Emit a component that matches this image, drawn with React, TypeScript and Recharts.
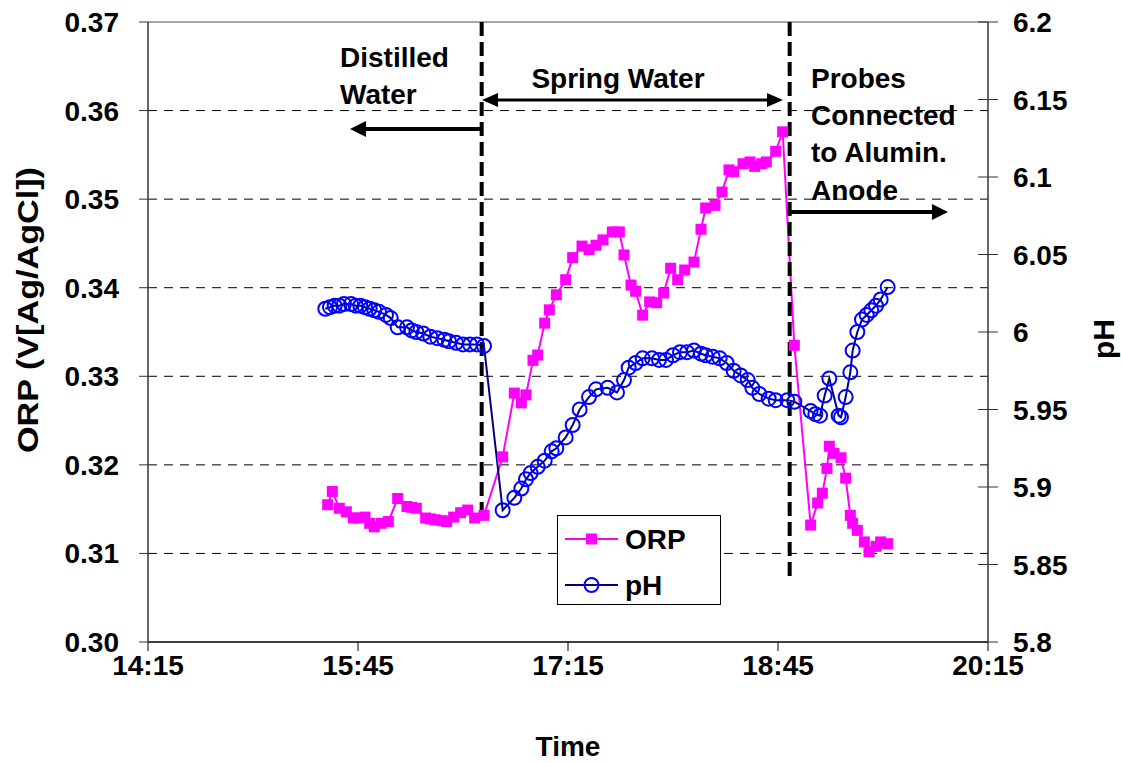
import React from 'react';
import { LineChart, Line, XAxis, YAxis, ReferenceLine } from 'recharts';

// ORP readings (V vs Ag/AgCl)
const orpTimes = [
  '15:32', '15:34', '15:37', '15:40', '15:43', '15:45', '15:48', '15:50', '15:52', '15:55',
  '15:58', '16:02', '16:06', '16:08', '16:10', '16:14', '16:16', '16:18', '16:21', '16:23',
  '16:26', '16:29', '16:32', '16:35', '16:39',
  '16:47', '16:52', '16:55', '16:57', '17:00', '17:02', '17:05', '17:07', '17:10', '17:14',
  '17:17', '17:21', '17:24', '17:27', '17:30', '17:34', '17:37', '17:39', '17:42', '17:44',
  '17:47', '17:50', '17:53', '17:56', '17:59', '18:02', '18:05', '18:09', '18:12', '18:14',
  '18:18', '18:21', '18:24', '18:26', '18:30', '18:33', '18:35', '18:38', '18:40', '18:44',
  '18:47',
  '18:52', '18:59', '19:02', '19:04', '19:06', '19:07', '19:09', '19:12', '19:14', '19:16',
  '19:17', '19:19', '19:22', '19:24', '19:27', '19:29', '19:32',
];
const orpValues = [
  0.3155, 0.317, 0.3151, 0.3147, 0.314, 0.314, 0.3141, 0.3134, 0.313, 0.3134,
  0.3136, 0.3162, 0.3153, 0.3152, 0.3151, 0.314, 0.3139, 0.3138, 0.3137, 0.3136,
  0.3141, 0.3146, 0.3149, 0.314, 0.3143,
  0.3209, 0.3281, 0.327, 0.3279, 0.3318, 0.3324, 0.336, 0.3375, 0.3392, 0.3409,
  0.3434, 0.3447, 0.3443, 0.3448, 0.3454, 0.3463, 0.3463, 0.3437, 0.3403, 0.3396,
  0.3369, 0.3384, 0.3383, 0.3394, 0.3422, 0.3409, 0.342, 0.3429, 0.3466, 0.349,
  0.3493, 0.3508, 0.3533, 0.3531, 0.354, 0.3542, 0.3537, 0.354, 0.3542, 0.3554,
  0.3576,
  0.3335, 0.3132, 0.3157, 0.3168, 0.3196, 0.3221, 0.3213, 0.3208, 0.3185, 0.3143,
  0.3134, 0.3126, 0.3113, 0.3102, 0.3108, 0.3113, 0.3111,
];

// pH readings
const phTimes = [
  '15:31', '15:33', '15:35', '15:37', '15:39', '15:42', '15:44', '15:46', '15:48', '15:50',
  '15:52', '15:54', '15:57', '15:59', '16:02', '16:06', '16:08', '16:10', '16:13', '16:16',
  '16:19', '16:22', '16:24', '16:27', '16:30', '16:33', '16:36', '16:39',
  '16:47', '16:52', '16:55', '16:57', '16:59', '17:02', '17:05', '17:08', '17:10', '17:14',
  '17:17', '17:20', '17:24', '17:27', '17:32', '17:36', '17:39', '17:41', '17:44', '17:47',
  '17:51', '17:54', '17:57', '18:00', '18:03', '18:06', '18:09', '18:12', '18:14', '18:17',
  '18:20', '18:23', '18:26', '18:29', '18:32', '18:34', '18:37', '18:41', '18:44', '18:49',
  '18:52', '18:59', '19:01', '19:03', '19:05', '19:07', '19:11', '19:12', '19:14', '19:16',
  '19:17', '19:19', '19:21', '19:23', '19:25', '19:27', '19:29', '19:32',
];
const phValues = [
  6.015, 6.016, 6.017, 6.017, 6.018, 6.018, 6.017, 6.017, 6.016, 6.015,
  6.014, 6.013, 6.011, 6.009, 6.003, 6.003, 6.001, 6.0, 5.999, 5.997,
  5.996, 5.995, 5.994, 5.993, 5.992, 5.992, 5.992, 5.991,
  5.885, 5.893, 5.899, 5.905, 5.909, 5.913, 5.917, 5.923, 5.925, 5.932,
  5.94, 5.95, 5.958, 5.963, 5.964, 5.961, 5.969, 5.977, 5.98, 5.983,
  5.983, 5.982, 5.982, 5.985, 5.987, 5.987, 5.988, 5.986, 5.985, 5.984,
  5.983, 5.98, 5.975, 5.972, 5.969, 5.964, 5.96, 5.957, 5.956, 5.956,
  5.955, 5.949, 5.947, 5.946, 5.959, 5.97, 5.946, 5.945, 5.958, 5.974,
  5.988, 6.0, 6.008, 6.011, 6.014, 6.017, 6.021, 6.029,
];

const timeTicks = ['14:15', '15:45', '17:15', '18:45', '20:15'];
const orpTicks = [0.3, 0.31, 0.32, 0.33, 0.34, 0.35, 0.36, 0.37];
const phTicks = [5.8, 5.85, 5.9, 5.95, 6.0, 6.05, 6.1, 6.15, 6.2];
// water change markers: [time, lowest ORP reached by the dashed line]
const phaseTimes = ['16:38', '18:50'];
const phaseBottoms = [0.3137, 0.307];

const FONT = '"Liberation Sans", Arial, Helvetica, sans-serif';
const W = 1121;
const H = 763;

const toMin = (s: string) => {
  const [h, m] = s.split(':').map(Number);
  return h * 60 + m;
};
const fmtTime = (v: number) => `${Math.floor(v / 60)}:${String(v % 60).padStart(2, '0')}`;

const orpData = orpTimes.map((t, i) => ({ t: toMin(t), v: orpValues[i] }));
const phData = phTimes.map((t, i) => ({ t: toMin(t), v: phValues[i] }));

const LeftTick = ({ x, y, payload }: any) => (
  <g>
    <line x1={x - 9} x2={x} y1={y} y2={y} stroke="#333" />
    <text x={x - 29} y={y + 10} textAnchor="end" fontSize={28} fontWeight="bold" fontFamily={FONT} fill="#000">
      {Number(payload.value).toFixed(2)}
    </text>
  </g>
);

const RightTick = ({ x, y, payload }: any) => (
  <g>
    <line x1={x - 10} x2={x + 10} y1={y} y2={y} stroke="#333" />
    <text x={x + 25} y={y + 10} textAnchor="start" fontSize={28} fontWeight="bold" fontFamily={FONT} fill="#000">
      {String(Number(Number(payload.value).toFixed(2)))}
    </text>
  </g>
);

const BottomTick = ({ x, y, payload }: any) => (
  <g>
    <line x1={x} x2={x} y1={y} y2={y + 9} stroke="#000" />
    <text x={x} y={y + 33} textAnchor="middle" fontSize={28} fontWeight="bold" fontFamily={FONT} fill="#000">
      {fmtTime(payload.value)}
    </text>
  </g>
);

const SquareDot = (props: any) => {
  const { cx, cy, index } = props;
  return <rect key={`sq-${index}`} x={cx - 5.5} y={cy - 5.5} width={11} height={11} fill="#FF00FF" />;
};

const CircleDot = (props: any) => {
  const { cx, cy, index } = props;
  return <circle key={`ci-${index}`} cx={cx} cy={cy} r={7} fill="none" stroke="#0000FF" strokeWidth={2} />;
};

const LegendBox = () => (
  <svg width={164} height={90} style={{ position: 'absolute', left: 557, top: 515, display: 'block' }}>
    <rect x={0.5} y={0.5} width={163} height={89} fill="#fff" stroke="#000" />
    <line x1={8} x2={61} y1={24} y2={24} stroke="#FF00FF" strokeWidth={2} />
    <rect x={29} y={18.5} width={11} height={11} fill="#FF00FF" />
    <text x={68} y={34} fontSize={28} fontWeight="bold" fontFamily={FONT}>ORP</text>
    <line x1={8} x2={61} y1={70} y2={70} stroke="#000080" strokeWidth={2} />
    <circle cx={34.5} cy={70} r={7} fill="none" stroke="#0000FF" strokeWidth={2} />
    <text x={68} y={80} fontSize={28} fontWeight="bold" fontFamily={FONT}>pH</text>
  </svg>
);

const txt = { fontSize: 28, fontWeight: 'bold' as const, fontFamily: FONT, fill: '#000' };

const Annotations = () => (
  <svg width={W} height={H} style={{ position: 'absolute', left: 0, top: 0, pointerEvents: 'none' }}>
    <text x={340} y={67} {...txt}>Distilled</text>
    <text x={340} y={104} {...txt}>Water</text>
    <line x1={482} x2={362} y1={129} y2={129} stroke="#000" strokeWidth={4} />
    <polygon points="350,129 366,121 366,137" fill="#000" />

    <text x={618} y={88} textAnchor="middle" {...txt}>Spring Water</text>
    <line x1={494} x2={771} y1={100} y2={100} stroke="#000" strokeWidth={3} />
    <polygon points="482,100 498,93 498,107" fill="#000" />
    <polygon points="783,100 767,93 767,107" fill="#000" />

    <text x={811} y={88} {...txt}>Probes</text>
    <text x={811} y={125} {...txt}>Connected</text>
    <text x={811} y={162} {...txt}>to Alumin.</text>
    <text x={811} y={200} {...txt}>Anode</text>
    <line x1={791} x2={935} y1={212} y2={212} stroke="#000" strokeWidth={4} />
    <polygon points="948,212 932,204 932,220" fill="#000" />

    <text x={568} y={756} textAnchor="middle" {...txt}>Time</text>
    <text
      transform="translate(38,310) rotate(-90)"
      textAnchor="middle"
      {...txt}
      fontSize={30}
      textLength={286}
      lengthAdjust="spacingAndGlyphs"
    >
      ORP (V[Ag/AgCl])
    </text>
    <text transform="translate(1114,339) rotate(-90)" textAnchor="middle" {...txt} fontSize={30}>pH</text>
  </svg>
);

export default function App() {
  return (
    <div style={{ position: 'absolute', left: 0, top: 0, width: W, height: H, background: '#fff' }}>
      <LineChart width={W} height={H} margin={{ top: 22, right: 0, bottom: 0, left: 0 }}>
        <XAxis
          dataKey="t"
          type="number"
          domain={[toMin(timeTicks[0]), toMin(timeTicks[timeTicks.length - 1])]}
          ticks={timeTicks.map(toMin)}
          allowDataOverflow
          height={121}
          tickSize={0}
          tickMargin={0}
          tickLine={false}
          tick={<BottomTick />}
          axisLine={{ stroke: '#000', strokeWidth: 1.5 }}
        />
        <YAxis
          yAxisId="orp"
          domain={[orpTicks[0], orpTicks[orpTicks.length - 1]]}
          ticks={orpTicks}
          allowDataOverflow
          width={148}
          tickSize={0}
          tickMargin={0}
          tickLine={false}
          tick={<LeftTick />}
          axisLine={{ stroke: '#333', strokeWidth: 1.5 }}
        />
        <YAxis
          yAxisId="ph"
          orientation="right"
          domain={[phTicks[0], phTicks[phTicks.length - 1]]}
          ticks={phTicks}
          allowDataOverflow
          width={133}
          tickSize={0}
          tickMargin={0}
          tickLine={false}
          tick={<RightTick />}
          axisLine={{ stroke: '#333', strokeWidth: 1.5 }}
        />
        {orpTicks.slice(1, -1).map((v) => (
          <ReferenceLine key={`g-${v}`} yAxisId="orp" y={v} stroke="#000" strokeDasharray="9 7" />
        ))}
        <ReferenceLine yAxisId="orp" y={orpTicks[orpTicks.length - 1]} stroke="#888" strokeWidth={1.5} />
        <Line
          yAxisId="orp"
          data={orpData}
          dataKey="v"
          name="ORP"
          stroke="#FF00FF"
          strokeWidth={2}
          dot={SquareDot}
          activeDot={false}
          isAnimationActive={false}
        />
        <Line
          yAxisId="ph"
          data={phData}
          dataKey="v"
          name="pH"
          stroke="#000080"
          strokeWidth={2}
          dot={CircleDot}
          activeDot={false}
          isAnimationActive={false}
        />
        {phaseTimes.map((t, i) => (
          <ReferenceLine
            key={`p-${t}`}
            yAxisId="orp"
            segment={[
              { x: toMin(t), y: orpTicks[orpTicks.length - 1] },
              { x: toMin(t), y: phaseBottoms[i] },
            ]}
            stroke="#000"
            strokeWidth={4}
            strokeDasharray="14 6"
          />
        ))}
      </LineChart>
      <LegendBox />
      <Annotations />
    </div>
  );
}
